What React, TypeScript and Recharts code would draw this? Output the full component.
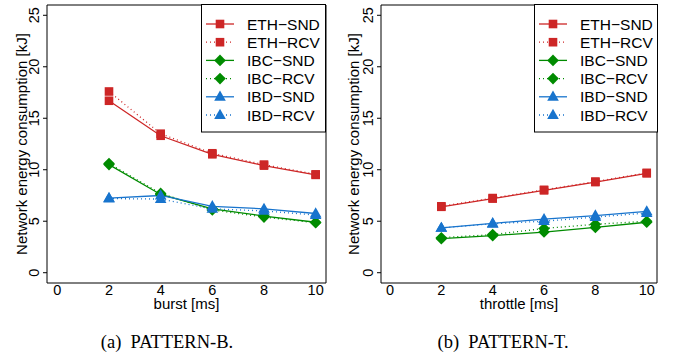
import React from 'react';
import { LineChart, Line, XAxis, YAxis, ReferenceArea, Legend } from 'recharts';

const xValues = [2, 4, 6, 8, 10];

// PATTERN-B (burst)
const ethSndB = [16.7, 13.3, 11.5, 10.4, 9.5];
const ethRcvB = [17.6, 13.5, 11.6, 10.5, 9.55];
const ibcSndB = [10.5, 7.6, 6.2, 5.5, 4.9];
const ibcRcvB = [10.6, 7.7, 6.1, 5.4, 4.85];
const ibdSndB = [7.25, 7.5, 6.45, 6.2, 5.75];
const ibdRcvB = [7.2, 7.15, 6.2, 6.0, 5.6];

// PATTERN-T (throttle)
const ethSndT = [6.4, 7.2, 8.0, 8.8, 9.65];
const ethRcvT = [6.45, 7.25, 8.05, 8.85, 9.7];
const ibcSndT = [3.3, 3.6, 3.95, 4.4, 4.9];
const ibcRcvT = [3.4, 3.7, 4.3, 4.7, 5.0];
const ibdSndT = [4.35, 4.8, 5.2, 5.55, 5.95];
const ibdRcvT = [4.35, 4.75, 5.0, 5.4, 5.8];

const xTicks = [0, 2, 4, 6, 8, 10];
const yTicks = [0, 5, 10, 15, 20, 25];
const seriesNames = ['ETH\u2212SND', 'ETH\u2212RCV', 'IBC\u2212SND', 'IBC\u2212RCV', 'IBD\u2212SND', 'IBD\u2212RCV'];
const keys = ['ethSnd', 'ethRcv', 'ibcSnd', 'ibcRcv', 'ibdSnd', 'ibdRcv'];

const RED = '#CD2626';
const GREEN = '#008B00';
const BLUE = '#1874CD';
const colors = [RED, RED, GREEN, GREEN, BLUE, BLUE];
const shapes = ['square', 'square', 'diamond', 'diamond', 'triangle', 'triangle'];
const dashed = [false, true, false, true, false, true];

const SANS = '"Liberation Sans", Arial, Helvetica, sans-serif';
const SERIF = '"Liberation Serif", "Times New Roman", serif';

function buildRows(series: number[][]) {
  return xValues.map((x, i) => {
    const row: any = { x };
    keys.forEach((k, j) => {
      row[k] = series[j][i];
    });
    return row;
  });
}

const dataB = buildRows([ethSndB, ethRcvB, ibcSndB, ibcRcvB, ibdSndB, ibdRcvB]);
const dataT = buildRows([ethSndT, ethRcvT, ibcSndT, ibcRcvT, ibdSndT, ibdRcvT]);

function Marker({ cx, cy, shape, color }: any) {
  if (cx == null || cy == null) return null;
  if (shape === 'square') {
    return <rect x={cx - 4.3} y={cy - 4.3} width={8.6} height={8.6} fill={color} />;
  }
  if (shape === 'diamond') {
    const r = 5.8;
    return <polygon points={`${cx},${cy - r} ${cx + r},${cy} ${cx},${cy + r} ${cx - r},${cy}`} fill={color} />;
  }
  return <polygon points={`${cx},${cy - 6.2} ${cx + 5.8},${cy + 3.9} ${cx - 5.8},${cy + 3.9}`} fill={color} />;
}

function LegendBox({ width }: { width: number }) {
  const rowH = 18.2;
  return (
    <svg width={width} height={129} style={{ display: 'block', overflow: 'visible' }}>
      <rect x={0.5} y={0.5} width={width - 1} height={127.5} fill="#fff" stroke="#000" strokeWidth={1} />
      {seriesNames.map((n, i) => {
        const y = 20 + i * rowH;
        return (
          <g key={n}>
            <line
              x1={5}
              x2={33}
              y1={y}
              y2={y}
              stroke={colors[i]}
              strokeWidth={1.3}
              strokeDasharray={dashed[i] ? '1 3' : undefined}
            />
            <Marker cx={19} cy={y} shape={shapes[i]} color={colors[i]} />
            <text x={46} y={y + 5.5} fontSize={15.5} fontFamily={SANS} fill="#000">
              {n}
            </text>
          </g>
        );
      })}
    </svg>
  );
}

function YTick({ x, y, payload }: any) {
  const tx = x - 2;
  return (
    <text
      x={tx}
      y={y}
      transform={`rotate(-90, ${tx}, ${y})`}
      textAnchor="middle"
      fontSize={14.5}
      fontFamily={SANS}
      fill="#000"
    >
      {payload.value}
    </text>
  );
}

function Panel({ data, xLabel, yAxisWidth, rightMargin, xDomain, labelCenter, legendLeft, legendWidth }: any) {
  return (
    <LineChart width={341} height={320} data={data} margin={{ top: 5, right: rightMargin, bottom: 0, left: 0 }}>
      <XAxis
        dataKey="x"
        type="number"
        domain={xDomain}
        ticks={xTicks}
        allowDataOverflow
        tickLine={false}
        axisLine={false}
        tickSize={0}
        tickMargin={2}
        height={37}
        tick={{ fontSize: 14.5, fill: '#000', fontFamily: SANS }}
        label={{ value: xLabel, position: 'insideBottom', offset: 11, fontSize: 15, fill: '#000', fontFamily: SANS }}
      />
      <YAxis
        type="number"
        domain={[-1, 26]}
        ticks={yTicks}
        allowDataOverflow
        width={yAxisWidth}
        axisLine={false}
        tickSize={4}
        tickMargin={2}
        tickLine={{ stroke: '#000' }}
        tick={<YTick />}
        label={(props: any) => {
          const vb = props.viewBox || { x: 0, y: 5, width: yAxisWidth, height: 278 };
          const cx = vb.x + labelCenter;
          const cy = vb.y + vb.height / 2;
          return (
            <text
              x={cx}
              y={cy}
              dy={5}
              transform={`rotate(-90, ${cx}, ${cy})`}
              textAnchor="middle"
              fontSize={15}
              fontFamily={SANS}
              fill="#000"
            >
              Network energy consumption [kJ]
            </text>
          );
        }}
      />
      <ReferenceArea x1={xDomain[0]} x2={xDomain[1]} y1={-1} y2={26} fill="none" stroke="#000" strokeWidth={1} ifOverflow="visible" />
      {keys.map((k, i) => (
        <Line
          key={k}
          dataKey={k}
          type="linear"
          stroke={colors[i]}
          strokeWidth={1.3}
          strokeDasharray={dashed[i] ? '1 3' : undefined}
          isAnimationActive={false}
          dot={(p: any) => <Marker key={`${k}-${p.index}`} cx={p.cx} cy={p.cy} shape={shapes[i]} color={colors[i]} />}
          activeDot={false}
        />
      ))}
      <Legend
        layout="vertical"
        align="center"
        verticalAlign="middle"
        wrapperStyle={{ left: legendLeft, top: 4, width: legendWidth, height: 129, bottom: 'auto', right: 'auto' }}
        content={() => <LegendBox width={legendWidth} />}
      />
    </LineChart>
  );
}

export default function App() {
  return (
    <div style={{ position: 'absolute', left: 0, top: 0, width: 682, height: 360, background: '#fff' }}>
      <div style={{ position: 'absolute', left: 0, top: 0 }}>
        <Panel
          data={dataB}
          xLabel="burst [ms]"
          yAxisWidth={47}
          rightMargin={15}
          xDomain={[-0.4, 10.4]}
          labelCenter={22}
          legendLeft={201}
          legendWidth={125}
        />
      </div>
      <div style={{ position: 'absolute', left: 341, top: 0 }}>
        <Panel
          data={dataT}
          xLabel="throttle [ms]"
          yAxisWidth={40}
          rightMargin={25}
          xDomain={[-0.35, 10.4]}
          labelCenter={13}
          legendLeft={193}
          legendWidth={124}
        />
      </div>
      <svg width={682} height={360} style={{ position: 'absolute', left: 0, top: 0, pointerEvents: 'none' }}>
        <text x={167} y={348} textAnchor="middle" fontSize={18.5} fontFamily={SERIF} fill="#000" xmlSpace="preserve">
          (a)  PATTERN-B.
        </text>
        <text x={503} y={348} textAnchor="middle" fontSize={18.5} fontFamily={SERIF} fill="#000" xmlSpace="preserve">
          (b)  PATTERN-T.
        </text>
      </svg>
    </div>
  );
}
